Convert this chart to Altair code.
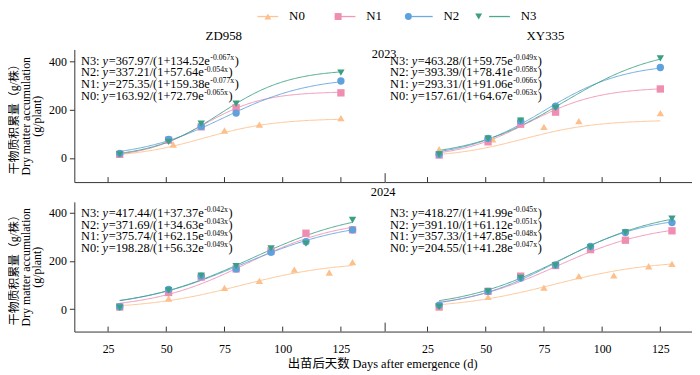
import altair as alt
import pandas as pd

FONT = "Liberation Serif, Noto Sans CJK SC, serif"
SERIES = ["N0", "N1", "N2", "N3"]
PSERIES = ["P0", "P1", "P2", "P3"]   # same series, keyed separately for the marker legend
COLORS = ["#FDBF8B", "#EF8EB1", "#5DA2DC", "#3B9F84"]
SHAPES = ["triangle-up", "square", "circle", "triangle-down"]
TICKS = [25, 50, 75, 100, 125]

CULTIVARS = ["ZD958", "XY335"]
YEARS = ["2023", "2024"]
X_TITLE = "出苗后天数 Days after emergence (d)"
Y_TITLE = ["干物质积累量（g/株）", "Dry matter accumulation", "(g/plant)"]

# sampling days (days after emergence)
days23_n0 = [30, 53, 75, 90, 125]
days23 = [30, 51, 65, 80, 125]
days24_n0 = [30, 51, 75, 90, 105, 120, 130]
days24 = [30, 51, 65, 80, 95, 110, 130]

# ZD958 2023 observed dry matter (g/plant)
zd23_n0 = [15, 56, 114, 138, 165]
zd23_n1 = [15, 74, 129, 208, 270]
zd23_n2 = [19, 77, 131, 186, 319]
zd23_n3 = [15, 67, 142, 225, 354]
# XY335 2023
xy23_n0 = [36, 77, 129, 153, 186]
xy23_n1 = [12, 67, 140, 190, 286]
xy23_n2 = [15, 81, 153, 215, 375]
xy23_n3 = [15, 80, 155, 208, 413]
# ZD958 2024
zd24_n0 = [6, 44, 88, 117, 164, 152, 195]
zd24_n1 = [10, 69, 133, 167, 242, 315, 329]
zd24_n2 = [10, 82, 137, 167, 236, 280, 329]
zd24_n3 = [6, 78, 139, 178, 252, 272, 370]
# XY335 2024
xy24_n0 = [6, 51, 89, 137, 140, 178, 188]
xy24_n1 = [10, 74, 137, 181, 247, 286, 325]
xy24_n2 = [16, 74, 129, 183, 260, 318, 359]
xy24_n3 = [10, 74, 129, 181, 256, 318, 375]

# logistic fits y = A/(1+B e^(-k x)), order N0..N3
zd23_A = [163.92, 275.35, 337.21, 367.97]
zd23_B = [72.79, 159.38, 57.64, 134.52]
zd23_k = [0.065, 0.077, 0.054, 0.067]
xy23_A = [157.61, 293.31, 393.39, 463.28]
xy23_B = [64.67, 91.06, 78.41, 59.75]
xy23_k = [0.063, 0.066, 0.058, 0.049]
zd24_A = [198.28, 375.74, 371.69, 417.44]
zd24_B = [56.32, 62.15, 34.63, 37.37]
zd24_k = [0.049, 0.049, 0.043, 0.042]
xy24_A = [204.55, 357.33, 391.10, 418.27]
xy24_B = [41.28, 47.85, 61.12, 41.99]
xy24_k = [0.047, 0.048, 0.051, 0.045]

fit_start = 30
fit_end = [125, 130]  # per year

# Times / Liberation Serif advance widths (em)
W_REG = {**{d: 0.5 for d in "0123456789"}, ".": 0.25, "/": 0.278, "(": 0.333,
         ")": 0.333, "+": 0.564, "=": 0.564, "N": 0.722, ":": 0.278, " ": 0.25,
         "e": 0.444, "-": 0.333, "x": 0.5}
FS, SS, LH = 12.5, 7.8, 11.7


def tw(s, size):
    return sum(W_REG.get(c, 0.5) for c in s) * size


def points_df(days_n0, days_n, vals):
    rows = []
    for s, v in zip(PSERIES, vals):
        d = days_n0 if s == "P0" else days_n
        for x, y in zip(d, v):
            rows.append({"series_p": s, "day": x, "dm": y})
    return pd.DataFrame(rows)


def params_df(A, B, k, end):
    return pd.DataFrame({"series": SERIES, "A": A, "B": B, "k": k,
                         "start": [fit_start] * 4, "end": [end] * 4})


def eq_frames(A, B, k, x0, base0, W, H, xdom, ydom):
    reg, ita, sup = [], [], []

    def conv(px, py):
        return (xdom[0] + px / W * (xdom[1] - xdom[0]),
                ydom[1] - py / H * (ydom[1] - ydom[0]))

    for j, i in enumerate([3, 2, 1, 0]):
        by = base0 + j * LH
        x = x0
        s1 = f"{SERIES[i]}: "
        reg.append((s1, *conv(x, by))); x += tw(s1, FS)
        ita.append(("y", *conv(x, by))); x += 0.444 * FS + 0.6
        s2 = f"={A[i]:.2f}/(1+{B[i]:.2f}e"
        reg.append((s2, *conv(x, by))); x += tw(s2, FS) + 0.4
        s3 = f"-{k[i]:.3f}x"
        sup.append((s3, *conv(x, by - 5))); x += tw(s3, SS) + 0.6
        reg.append((")", *conv(x, by)))
    mk = lambda r: pd.DataFrame(r, columns=["t", "xd", "yd"])
    return mk(reg), mk(ita), mk(sup)


stroke_scale = alt.Scale(domain=SERIES, range=COLORS)
fill_scale = alt.Scale(domain=PSERIES, range=COLORS)
shape_scale = alt.Scale(domain=PSERIES, range=SHAPES)

LX, LY = 189, -40
LEG_COMMON = dict(title=None, orient="none", legendX=LX, legendY=LY,
                  direction="horizontal", columns=4, symbolSize=49, labelOffset=15,
                  columnPadding=27, labelFontSize=13, labelFont=FONT)
line_legend = alt.Legend(symbolType="M-3,0H3", symbolStrokeWidth=1.3,
                         labelColor="black", **LEG_COMMON)
pt_legend = alt.Legend(symbolStrokeWidth=0, labelColor="transparent",
                       labelExpr="'N' + slice(datum.label, 1)", **LEG_COMMON)


def txt(s, x, y, size=12.5, align="center", baseline="middle"):
    return alt.Chart(pd.DataFrame({"t": [s]})).mark_text(
        font=FONT, fontSize=size, align=align, baseline=baseline, color="black"
    ).encode(text="t:N", x=alt.value(x), y=alt.value(y))


def panel(pts, prm, A, B, k, xdom, ydom, W, H, side, row, extras):
    xs = alt.Scale(domain=xdom, nice=False, zero=False)
    ys = alt.Scale(domain=ydom, nice=False, zero=False)
    xaxis = alt.Axis(values=TICKS, ticks=False, tickSize=0, grid=False, title=None,
                     labels=(row == 1), labelPadding=12, labelFontSize=12,
                     labelFont=FONT, domainColor="#333333", labelColor="black")
    if side == 0:
        yaxis = alt.Axis(values=[0, 200, 400], title=Y_TITLE, grid=False, tickSize=5,
                         labelPadding=3, labelFontSize=12, labelFont=FONT,
                         titleFont=FONT, titleFontSize=12, titleFontWeight="normal",
                         titleLineHeight=11.5, titlePadding=5, domainColor="#333333",
                         tickColor="#333333", labelColor="black", titleColor="black")
    else:
        yaxis = None
    X = lambda f: alt.X(f, scale=xs, axis=xaxis)
    Y = lambda f: alt.Y(f, scale=ys, axis=yaxis)

    curve = alt.Chart(prm).transform_calculate(
        day="sequence(datum.start, datum.end + 0.25, 0.5)"
    ).transform_flatten(["day"]).transform_calculate(
        dm="datum.A/(1+datum.B*exp(-datum.k*datum.day))"
    ).mark_line(strokeWidth=1, opacity=0.9).encode(
        x=X("day:Q"), y=Y("dm:Q"),
        stroke=alt.Stroke("series:N", scale=stroke_scale, legend=line_legend),
    )
    points = alt.Chart(pts).mark_point(filled=True, size=55, opacity=1, strokeWidth=0).encode(
        x=X("day:Q"), y=Y("dm:Q"),
        fill=alt.Fill("series_p:N", scale=fill_scale, legend=pt_legend),
        shape=alt.Shape("series_p:N", scale=shape_scale, legend=pt_legend),
    )
    ticks = alt.Chart(pd.DataFrame({"t": TICKS})).mark_rule(color="#333333", strokeWidth=1).encode(
        x=X("t:Q"), y=alt.value(H), y2=alt.value(H - 5)
    )
    x0 = 6.7 if side == 0 else 5
    reg, ita, sup = eq_frames(A, B, k, x0, 15.6, W, H, xdom, ydom)
    eq_r = alt.Chart(reg).mark_text(font=FONT, fontSize=FS, align="left",
                                    baseline="alphabetic", color="black").encode(
        x=X("xd:Q"), y=Y("yd:Q"), text="t:N")
    eq_i = alt.Chart(ita).mark_text(font=FONT, fontSize=FS, fontStyle="italic", align="left",
                                    baseline="alphabetic", color="black").encode(
        x=X("xd:Q"), y=Y("yd:Q"), text="t:N")
    eq_s = alt.Chart(sup).mark_text(font=FONT, fontSize=SS, align="left",
                                    baseline="alphabetic", color="black").encode(
        x=X("xd:Q"), y=Y("yd:Q"), text="t:N")
    layers = [curve, points, ticks, eq_r, eq_i, eq_s] + extras
    if side == 1:
        sep = alt.Chart(pd.DataFrame({"t": [0]})).mark_rule(color="#333333", strokeWidth=1).encode(
            x=alt.value(0), y=alt.value(H), y2=alt.value(H - 9))
        layers.append(sep)
    return alt.layer(*layers).properties(width=W, height=H)


WL, WR = 314, 310
H1, H2 = 134, 131
xdom_l = [10.5, 144]
xdom_r = [6.8, 138.6]
ydom1 = [-100, 450]
ydom2 = [-93, 445]

p11 = panel(points_df(days23_n0, days23, [zd23_n0, zd23_n1, zd23_n2, zd23_n3]),
            params_df(zd23_A, zd23_B, zd23_k, fit_end[0]), zd23_A, zd23_B, zd23_k,
            xdom_l, ydom1, WL, H1, 0, 0, [txt(CULTIVARS[0], 151, -14, 13)])
p12 = panel(points_df(days23_n0, days23, [xy23_n0, xy23_n1, xy23_n2, xy23_n3]),
            params_df(xy23_A, xy23_B, xy23_k, fit_end[0]), xy23_A, xy23_B, xy23_k,
            xdom_r, ydom1, WR, H1, 1, 0,
            [txt(CULTIVARS[1], 162, -14, 13), txt(YEARS[0], -1, 5, 12.5)])
p21 = panel(points_df(days24_n0, days24, [zd24_n0, zd24_n1, zd24_n2, zd24_n3]),
            params_df(zd24_A, zd24_B, zd24_k, fit_end[1]), zd24_A, zd24_B, zd24_k,
            xdom_l, ydom2, WL, H2, 0, 1, [])
p22 = panel(points_df(days24_n0, days24, [xy24_n0, xy24_n1, xy24_n2, xy24_n3]),
            params_df(xy24_A, xy24_B, xy24_k, fit_end[1]), xy24_A, xy24_B, xy24_k,
            xdom_r, ydom2, WR, H2, 1, 1,
            [txt(YEARS[1], -2, -10, 12.5), txt(X_TITLE, -2.5, 164, 12.5)])

chart = alt.concat(p11, p12, p21, p22, columns=2, spacing={"row": 20, "column": 0},
                   bounds="flush").properties(
    padding=0, background="white"
).configure_view(stroke=None).configure_axis(domainWidth=1)

chart.save("out.html", embed_options={"renderer": "svg", "actions": False})
